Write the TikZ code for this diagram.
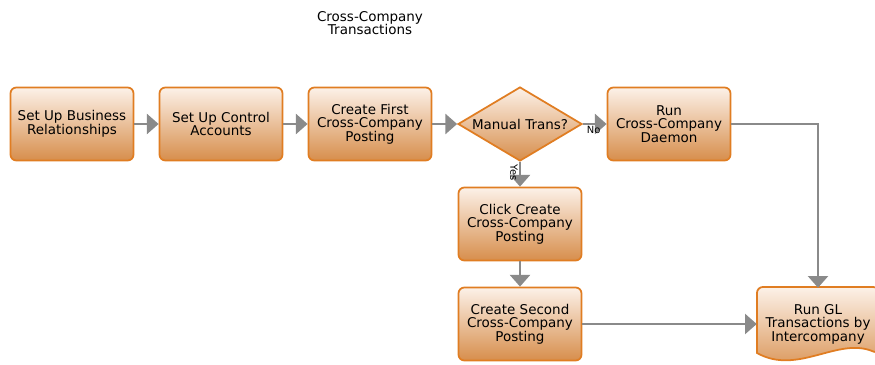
\documentclass[tikz,border=0pt]{standalone}
\usepackage{fontspec}
\setmainfont{DejaVu Sans}
\usetikzlibrary{arrows.meta,shapes.geometric,positioning}
\definecolor{boxline}{HTML}{E07D22}
\definecolor{boxtop}{HTML}{FCF1E8}
\definecolor{boxbot}{HTML}{D78E4C}
\definecolor{arrgray}{HTML}{8A8A8A}

\begin{document}
\begin{tikzpicture}[x=0.03cm, y=-0.03cm,
    phase/.style={draw=boxline, line width=1.5pt, rounded corners=5pt, minimum width=3.69cm, minimum height=2.19cm, align=center, inner sep=1pt, font=\fontsize{11.5}{11.5}\selectfont, top color=boxtop, bottom color=boxbot},
    choice/.style={diamond, draw=boxline, line width=1.5pt, minimum width=3.72cm, minimum height=2.22cm, inner sep=0pt, top color=boxtop, bottom color=boxbot},
    txt/.style={align=center, font=\fontsize{11.5}{11.5}\selectfont},
    lbl/.style={font=\fontsize{8.5}{9}\selectfont, inner sep=1pt},
    arr/.style={-{Triangle[length=10pt, width=17pt]}, line width=2.2pt, draw=arrgray}
]
\useasboundingbox (0,0) rectangle (875,364);

\node[txt] (ttl) at (370,23) {Cross-Company\\Transactions};

\node[phase] (p1) at (72,124) {Set Up Business\\Relationships};
\node[phase] (p2) at (221,124) {Set Up Control\\Accounts};
\node[phase] (p3) at (370,124) {Create First\\Cross-Company\\Posting};
\node[choice, label={[txt]center:Manual Trans?}] (q1) at (520,124) {};
\node[phase] (p4) at (669,124) {Run\\Cross-Company\\Daemon};
\node[phase] (p5) at (520,224) {Click Create\\Cross-Company\\Posting};
\node[phase] (p6) at (520,324) {Create Second\\Cross-Company\\Posting};

% document shape
\draw[draw=boxline, line width=1.5pt, top color=boxtop, bottom color=boxbot, shift={(818,324)}, rounded corners=5pt]
  (-61,29) -- (-61,-37) -- (61,-37) -- (61,30) [sharp corners] .. controls (20,12) and (-20,52) .. (-61,29) -- cycle;
\node[txt, minimum width=3.66cm, minimum height=2.16cm] (p7) at (818,324) {Run GL\\Transactions by\\Intercompany};

\draw[arr] (p1) -- (p2);
\draw[arr] (p2) -- (p3);
\draw[arr] (p3) -- (q1);
\draw[arr] (q1) -- node[lbl, below, pos=0.45] {No} (p4);
\draw[arr] (q1) -- node[lbl, rotate=-90, anchor=north, pos=0.45] {Yes} (p5);
\draw[arr] (p5) -- (p6);
\draw[arr] (p6) -- (p7);
\draw[arr] (p4.east) -| (p7.north);
\end{tikzpicture}
\end{document}
